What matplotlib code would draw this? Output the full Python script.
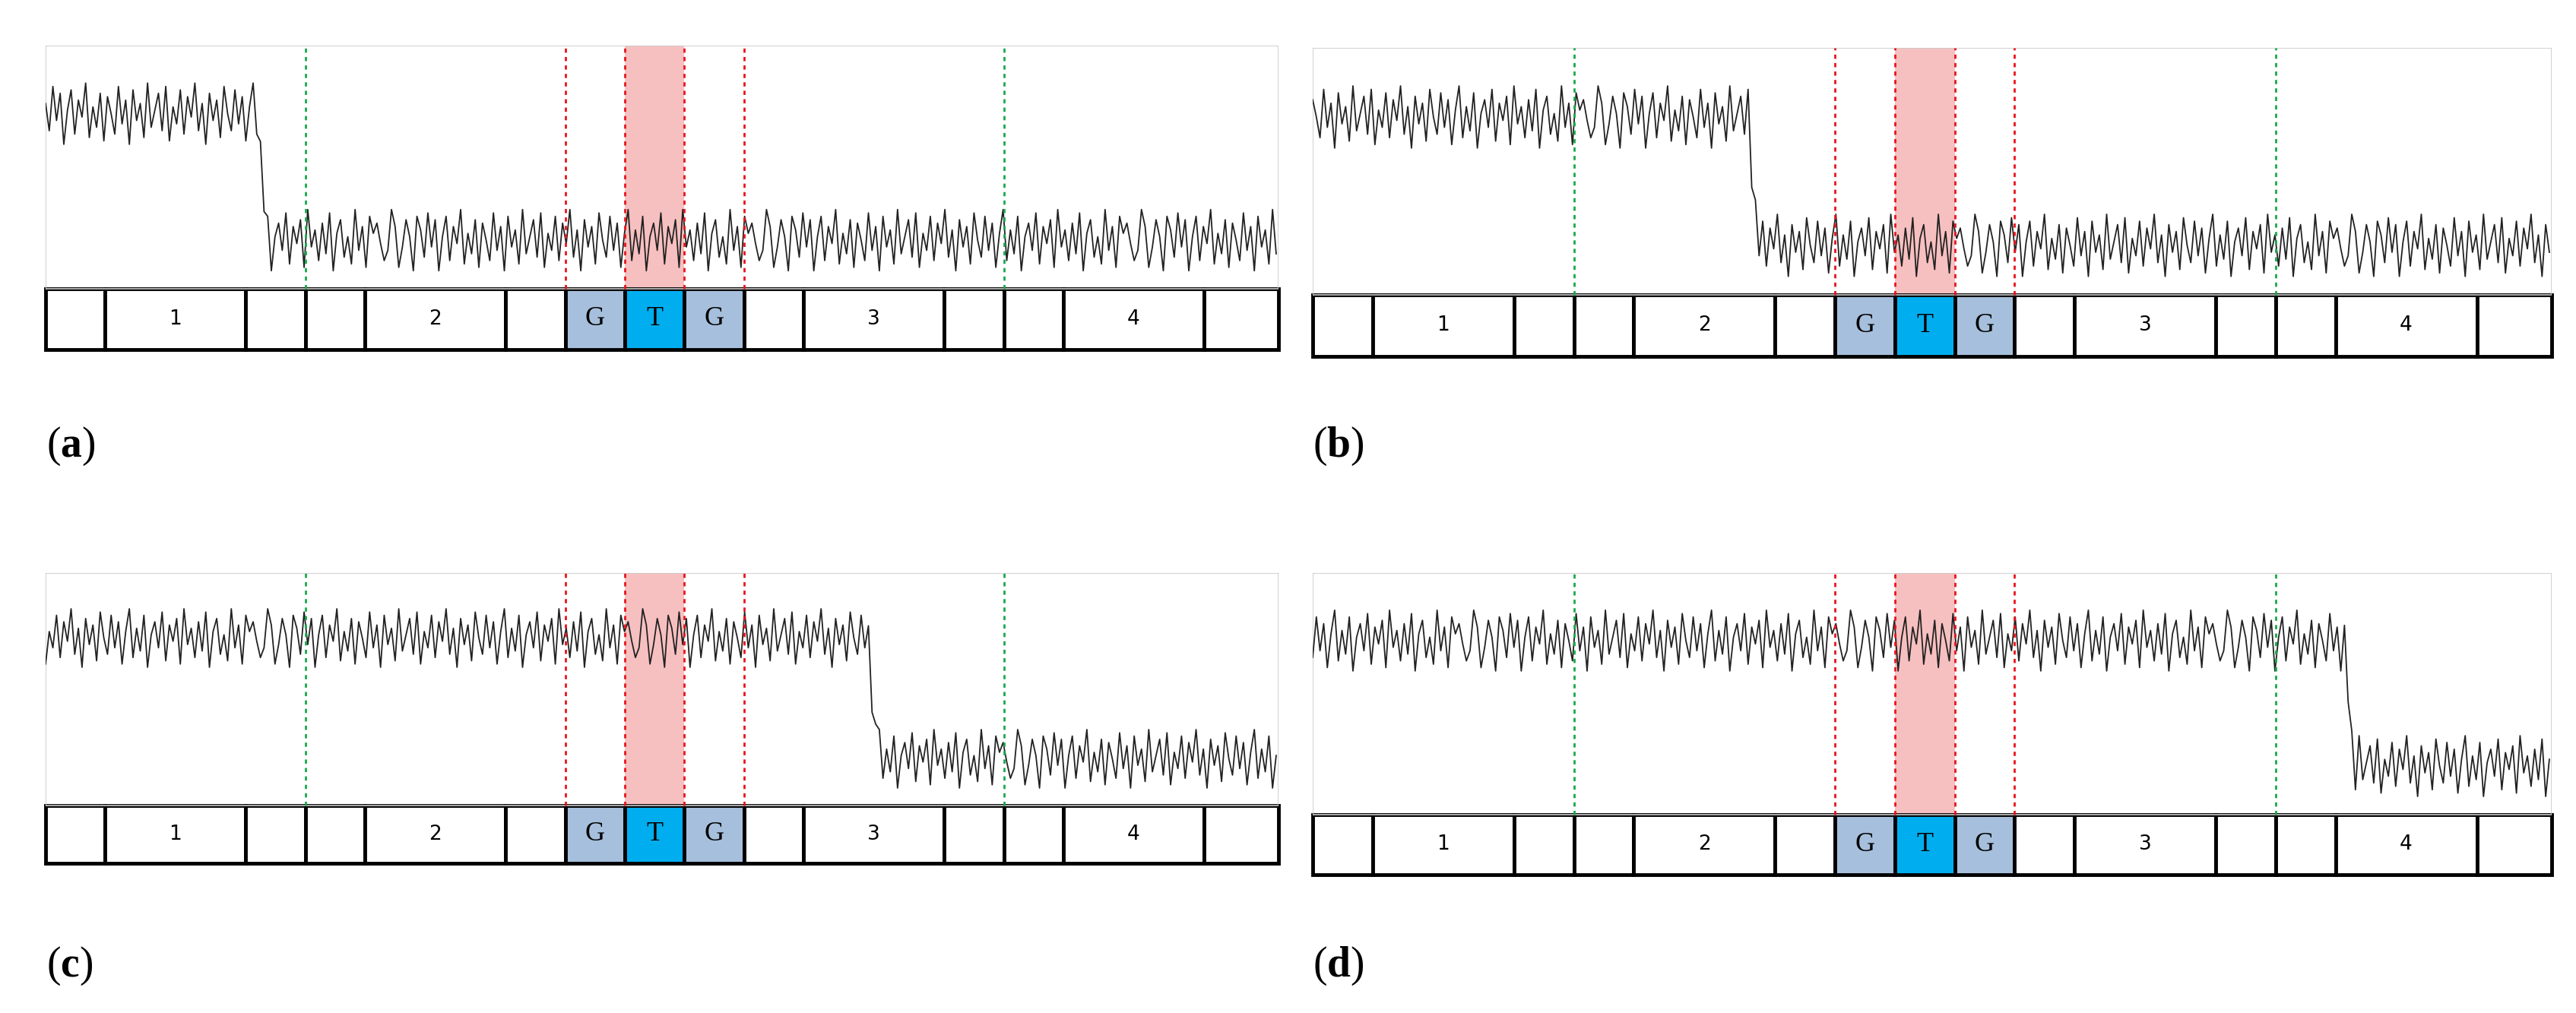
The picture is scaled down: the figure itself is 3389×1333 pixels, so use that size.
import numpy as np
import matplotlib.pyplot as plt

plt.rcParams['mathtext.fontset'] = 'custom'
plt.rcParams['mathtext.rm'] = 'Liberation Serif'
plt.rcParams['mathtext.bf'] = 'Liberation Serif:bold'

# box row: widths (units), labels
box_widths = [36, 85, 36, 36, 85, 36, 36, 36, 36, 36, 85, 36, 36, 85, 45]
box_labels = ['', '1', '', '', '2', '', 'G', 'T', 'G', '', '3', '', '', '4', '']
box_colors = ['white'] * 6 + ['#a6bfdc', '#00aeef', '#a6bfdc'] + ['white'] * 6

panel_names = ['a', 'b', 'c', 'd']
drop_pos = [128, 262, 497, 620]      # where the signal steps down
high_level = 0.72
low_level = 0.2

# hand-read wiggle around the level (fraction of amplitude)
wiggle = [0.3, -0.5, 0.8, -0.2, 0.6, -0.9, 0.1, 0.7, -0.6, 0.4, -0.1, 0.9, -0.7, 0.2, -0.4,
          0.6, -0.8, 0.5, 0.0, -0.6, 0.8, -0.3, 0.4, -0.9, 0.7, -0.2, 0.3, -0.7, 0.9, -0.4,
          0.1, 0.6, -0.5, 0.8, -0.8, 0.2, -0.3, 0.7, -0.6, 0.5, -0.1, 0.9, -0.5, 0.3, -0.9,
          0.6, -0.2, 0.4, -0.7, 0.8, 0.0, -0.5, 0.7, -0.3, 0.5, -0.8, 0.2, 0.9, -0.6, 0.3,
          -0.4, 0.7, -0.9, 0.1, 0.5, -0.3, 0.8, -0.7, 0.4, -0.1, 0.6, -0.8, 0.9, -0.2, 0.3,
          -0.6, 0.5, -0.4, 0.8, -0.9, 0.2, 0.6, -0.5, 0.1, -0.7, 0.9, -0.3, 0.4, -0.8, 0.7,
          0.2, 0.5, -0.1, -0.6, -0.3, 0.9, 0.4, -0.8, -0.2, 0.6, 0.1, -0.9, 0.7]

# pixel rectangles: left, bottom, width, height (signal + box row)
rects = {'a': (60, 873, 1622, 400), 'b': (1727, 864, 1630, 406),
         'c': (60, 197, 1622, 382), 'd': (1727, 182, 1630, 397)}
label_pos = {'a': (61, 746), 'b': (1727, 746), 'c': (61, 62), 'd': (1727, 62)}

W, H = 3389, 1333
fig = plt.figure(figsize=(W / 100, H / 100), dpi=100)

edges = np.concatenate([[0], np.cumsum(box_widths)])
total = edges[-1]
x = np.arange(0, total + 0.1, 2.2)

for k, name in enumerate(panel_names):
    l, b, w, h = rects[name]
    ax = fig.add_axes([l / W, b / H, w / W, h / H])
    ax.set_xlim(0, total)
    ax.set_ylim(-0.25, 1)
    ax.axis('off')
    # signal frame
    ax.plot([0, total, total, 0, 0], [0, 0, 1, 1, 0], color='#c8c8c8', lw=1.2)
    # signal
    n = np.array([wiggle[(i + 17 * k) % len(wiggle)] for i in range(len(x))])
    base = np.where(x < drop_pos[k], high_level, low_level)
    ramp = (x >= drop_pos[k]) & (x < drop_pos[k] + 6)
    base[ramp] = high_level - (high_level - low_level) * (x[ramp] - drop_pos[k]) / 6
    y = base + 0.14 * n
    ax.plot(x, y, color='#222222', lw=1.3)
    # pink band over T
    ax.axvspan(edges[7], edges[8], ymin=0.2, ymax=1, color='#f4a6a6', alpha=0.7, lw=0)
    for e in [edges[3], edges[12]]:
        ax.plot([e, e], [0, 1], color='#1aa84a', ls=(0, (2, 2)), lw=2)
    for e in [edges[6], edges[7], edges[8], edges[9]]:
        ax.plot([e, e], [0, 1], color='#e8141c', ls=(0, (2, 2)), lw=2)
    # boxes
    for i in range(len(box_widths)):
        ax.add_patch(plt.Rectangle((edges[i], -0.25), box_widths[i], 0.25,
                                   facecolor=box_colors[i], edgecolor='black', lw=3.5,
                                   clip_on=False))
        if box_labels[i] in ('G', 'T'):
            ax.text(edges[i] + box_widths[i] / 2, -0.125, box_labels[i], ha='center',
                    va='center', fontsize=26, family='Liberation Serif')
        elif box_labels[i]:
            ax.text(edges[i] + box_widths[i] / 2, -0.125, box_labels[i], ha='center',
                    va='center', fontsize=19)
    lx, ly = label_pos[name]
    fig.text(lx / W, ly / H, r'($\mathbf{%s}$)' % name, fontsize=40,
             family='Liberation Serif', va='center')

fig.savefig('out.png', dpi=100)
